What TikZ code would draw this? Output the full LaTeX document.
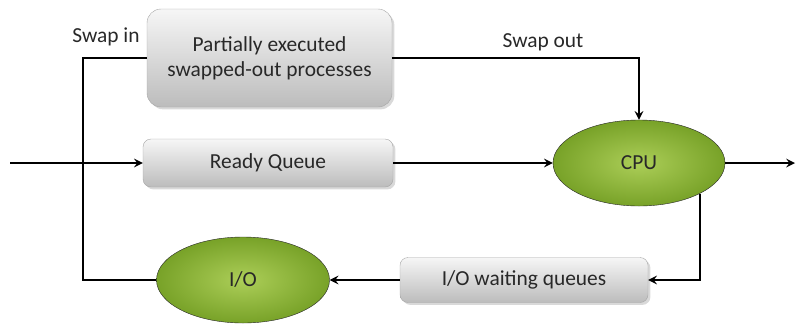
\documentclass[tikz,border=0pt]{standalone}
\usepackage{fontspec}
\setmainfont{Carlito}
\usetikzlibrary{shapes.geometric,shadows}
\definecolor{boxtop}{RGB}{246,246,246}
\definecolor{boxbot}{RGB}{188,188,188}
\definecolor{leafin}{RGB}{172,206,88}
\definecolor{leafout}{RGB}{120,162,40}
\definecolor{ink}{RGB}{40,40,40}
\begin{document}
\begin{tikzpicture}[x=1bp,y=-1bp]
                \tikzset{>=stealth}
                \tikzset{
                    queue/.style={draw=gray!70, rounded corners=8bp, top color=boxtop, bottom color=boxbot,
                        drop shadow={opacity=0.3}, text=ink, align=center, inner sep=0pt,
                        font=\fontsize{21.5}{25}\selectfont},
                    unit/.style={ellipse, draw=black!85, inner color=leafin, outer color=leafout,
                        text=ink, inner sep=0pt, font=\fontsize{21.5}{25}\selectfont},
                    tag/.style={text=ink, font=\fontsize{21.5}{25}\selectfont}
                }
                \useasboundingbox (0,0) rectangle (797,326);

                \node[queue, rounded corners=14bp, minimum width=245bp, minimum height=98bp] (swapbox) at (269.5,58) {Partially executed\\swapped-out processes};
                \node[queue, minimum width=250bp, minimum height=48bp] (ready) at (268,163) {Ready Queue};
                \node[queue, minimum width=248bp, minimum height=45bp] (iowait) at (524,280) {I/O waiting queues};
                \node[unit, minimum width=172bp, minimum height=86bp] (cpu) at (639,163) {CPU};
                \node[unit, minimum width=173bp, minimum height=86bp] (io) at (243,280) {I/O};

                \node[tag] (swapin) at (106,37) {Swap in};
                \node[tag] (swapout) at (543,42) {Swap out};

                \coordinate (in) at (10,163);
                \coordinate (out) at (795,163);
                \coordinate (turn) at (83,58);

                \begin{scope}[line width=2.8bp]
                \draw[->] (in) -- (ready);
                \draw[->] (ready) -- (cpu);
                \draw[->] (cpu) -- (out);
                \draw[->] (swapbox.east) -| (cpu.north);
                \draw[->] (cpu.south east) |- (iowait.east);
                \draw[->] (iowait) -- (io);
                \draw (io.west) -| (turn) -- (swapbox.west);
                \end{scope}
            \end{tikzpicture}
\end{document}
